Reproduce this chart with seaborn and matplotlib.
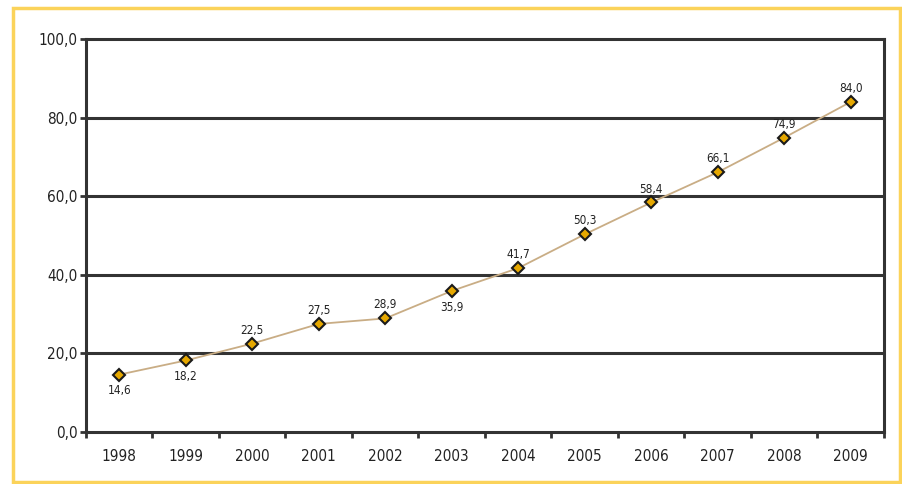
import numpy as np
import pandas as pd
import matplotlib
matplotlib.use("Agg")
import matplotlib.pyplot as plt
from matplotlib.patches import Rectangle
import seaborn as sns

years = ["1998", "1999", "2000", "2001", "2002", "2003",
         "2004", "2005", "2006", "2007", "2008", "2009"]
values = [14.6, 18.2, 22.5, 27.5, 28.9, 35.9, 41.7, 50.3, 58.4, 66.1, 74.9, 84.0]
label_below = ["1998", "1999", "2003"]
y_ticks = [0, 20, 40, 60, 80, 100]

sns.set_theme(style="white")
plt.rcParams["font.family"] = ["DejaVu Sans"]
plt.rcParams["font.stretch"] = "condensed"

df = pd.DataFrame({"year": years, "value": values})
df["pos"] = np.arange(len(df))

fig = plt.figure(figsize=(9.03, 4.84), dpi=100)
fig.patch.set_facecolor("white")
# yellow outer frame
fig.patches.append(Rectangle((13 / 903, 2 / 484), 887 / 903, 474 / 484,
                             transform=fig.transFigure, fill=False,
                             edgecolor="#fbd35a", linewidth=2.5))

ax = fig.add_axes([86 / 903, 1 - 432 / 484, 798 / 903, 393 / 484])

sns.lineplot(data=df, x="pos", y="value", ax=ax, color="#c9ad85", linewidth=1.3,
             marker="D", markersize=6.5, markerfacecolor="#e6a800",
             markeredgecolor="#1a1a1a", markeredgewidth=1.5)

for _, r in df.iterrows():
    txt = f"{r['value']:.1f}".replace(".", ",")
    if r["year"] in label_below:
        ax.annotate(txt, (r["pos"], r["value"]), xytext=(0, -7), textcoords="offset points",
                    ha="center", va="top", fontsize=8.5, color="#222222")
    else:
        ax.annotate(txt, (r["pos"], r["value"]), xytext=(0, 5), textcoords="offset points",
                    ha="center", va="bottom", fontsize=8.5, color="#222222")

ax.set_xlim(-0.5, len(years) - 0.5)
ax.set_ylim(0, 100)
ax.set_yticks(y_ticks)
ax.set_yticklabels([f"{v:.1f}".replace(".", ",") for v in y_ticks], fontsize=11, color="#222222")
ax.set_xticks(df["pos"])
ax.set_xticklabels(years, fontsize=11, color="#222222")
ax.set_xticks(np.arange(len(years) + 1) - 0.5, minor=True)
ax.tick_params(axis="x", which="major", length=0, pad=12)
ax.tick_params(axis="x", which="minor", length=4, width=2, color="#333333", direction="out", bottom=True)
ax.tick_params(axis="y", which="major", length=4, width=2, color="#333333", direction="out", left=True, pad=2)
ax.set_xlabel("")
ax.set_ylabel("")

for v in y_ticks[1:-1]:
    ax.axhline(v, color="#333333", linewidth=2.2, zorder=1)
for s in ax.spines.values():
    s.set_visible(True)
    s.set_color("#333333")
    s.set_linewidth(2.2)

fig.savefig("out.png", dpi=100)
